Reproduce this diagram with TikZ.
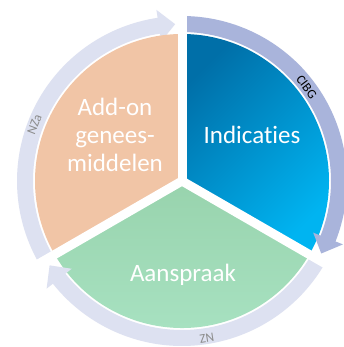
\documentclass[tikz,border=0pt]{standalone}
\usepackage{fontspec}
\setmainfont[Ligatures=NoCommon]{Carlito}
\definecolor{orangesec}{HTML}{F1C5A6}
\definecolor{bluedark}{HTML}{006FA8}
\definecolor{bluelight}{HTML}{00B4F1}
\definecolor{greentop}{HTML}{98D3AD}
\definecolor{greenbot}{HTML}{A9E3C3}
\definecolor{ringlight}{HTML}{DDE1F1}
\definecolor{ringdark}{HTML}{A9B4DB}
\definecolor{labelgray}{HTML}{8C8C8C}
\tikzset{
  bigtext/.style={text=white, align=center, font=\fontsize{25}{28}\selectfont, inner sep=0pt},
  ringtext/.style={font=\fontsize{13}{14}\selectfont, inner sep=0pt},
  gapline/.style={white, line width=9pt},
}
\newcommand{\ringarrow}[3]{%
  \pgfmathsetmacro\hbase{#2+6}%
  \fill[#3] (#1:165pt) arc[start angle=#1, end angle=\hbase, radius=165pt]
    -- (\hbase:173pt) -- (#2:157pt) -- (\hbase:141pt) -- (\hbase:149pt)
    arc[start angle=\hbase, end angle=#1, radius=149pt] -- cycle;}
\begin{document}
\begin{tikzpicture}[x=1pt,y=1pt]
\useasboundingbox (0,0) rectangle (344,347);
\fill[white] (0,0) rectangle (344,347);
\begin{scope}[shift={(182,166)}]
  % NZa ring (below orange sector)
  \ringarrow{210}{92.5}{ringlight}
  % sectors
  \fill[orangesec] (0,0) -- (90:147pt) arc[start angle=90, end angle=210, radius=147pt] -- cycle;
  \shade[top color=bluedark, bottom color=bluelight, shading angle=45]
    (0,0) -- (90:147pt) arc[start angle=90, end angle=-30, radius=147pt] -- cycle;
  \shade[top color=greentop, bottom color=greenbot]
    (0,0) -- (210:147pt) arc[start angle=210, end angle=330, radius=147pt] -- cycle;
  % CIBG and ZN rings
  \ringarrow{90}{-27.5}{ringdark}
  \ringarrow{-30}{-147.5}{ringlight}
  % gaps
  \foreach \a in {90,-30,210} \draw[gapline] (0,0) -- (\a:185pt);
  \fill[white] (0,0) circle (5pt);
  % ring labels
  \node[ringtext, text=black, rotate=-53] (cibg) at (37:156pt) {CIBG};
  \node[ringtext, text=labelgray, rotate=69] (nza) at (159:158pt) {NZa};
  \node[ringtext, text=labelgray, rotate=9] (zn) at (-81:159pt) {ZN};
\end{scope}
\node[bigtext] (addon) at (115,212) {Add-on\\genees-\\middelen};
\node[bigtext] (indicaties) at (252,212) {Indicaties};
\node[bigtext] (aanspraak) at (183,72) {Aanspraak};
\end{tikzpicture}
\end{document}
